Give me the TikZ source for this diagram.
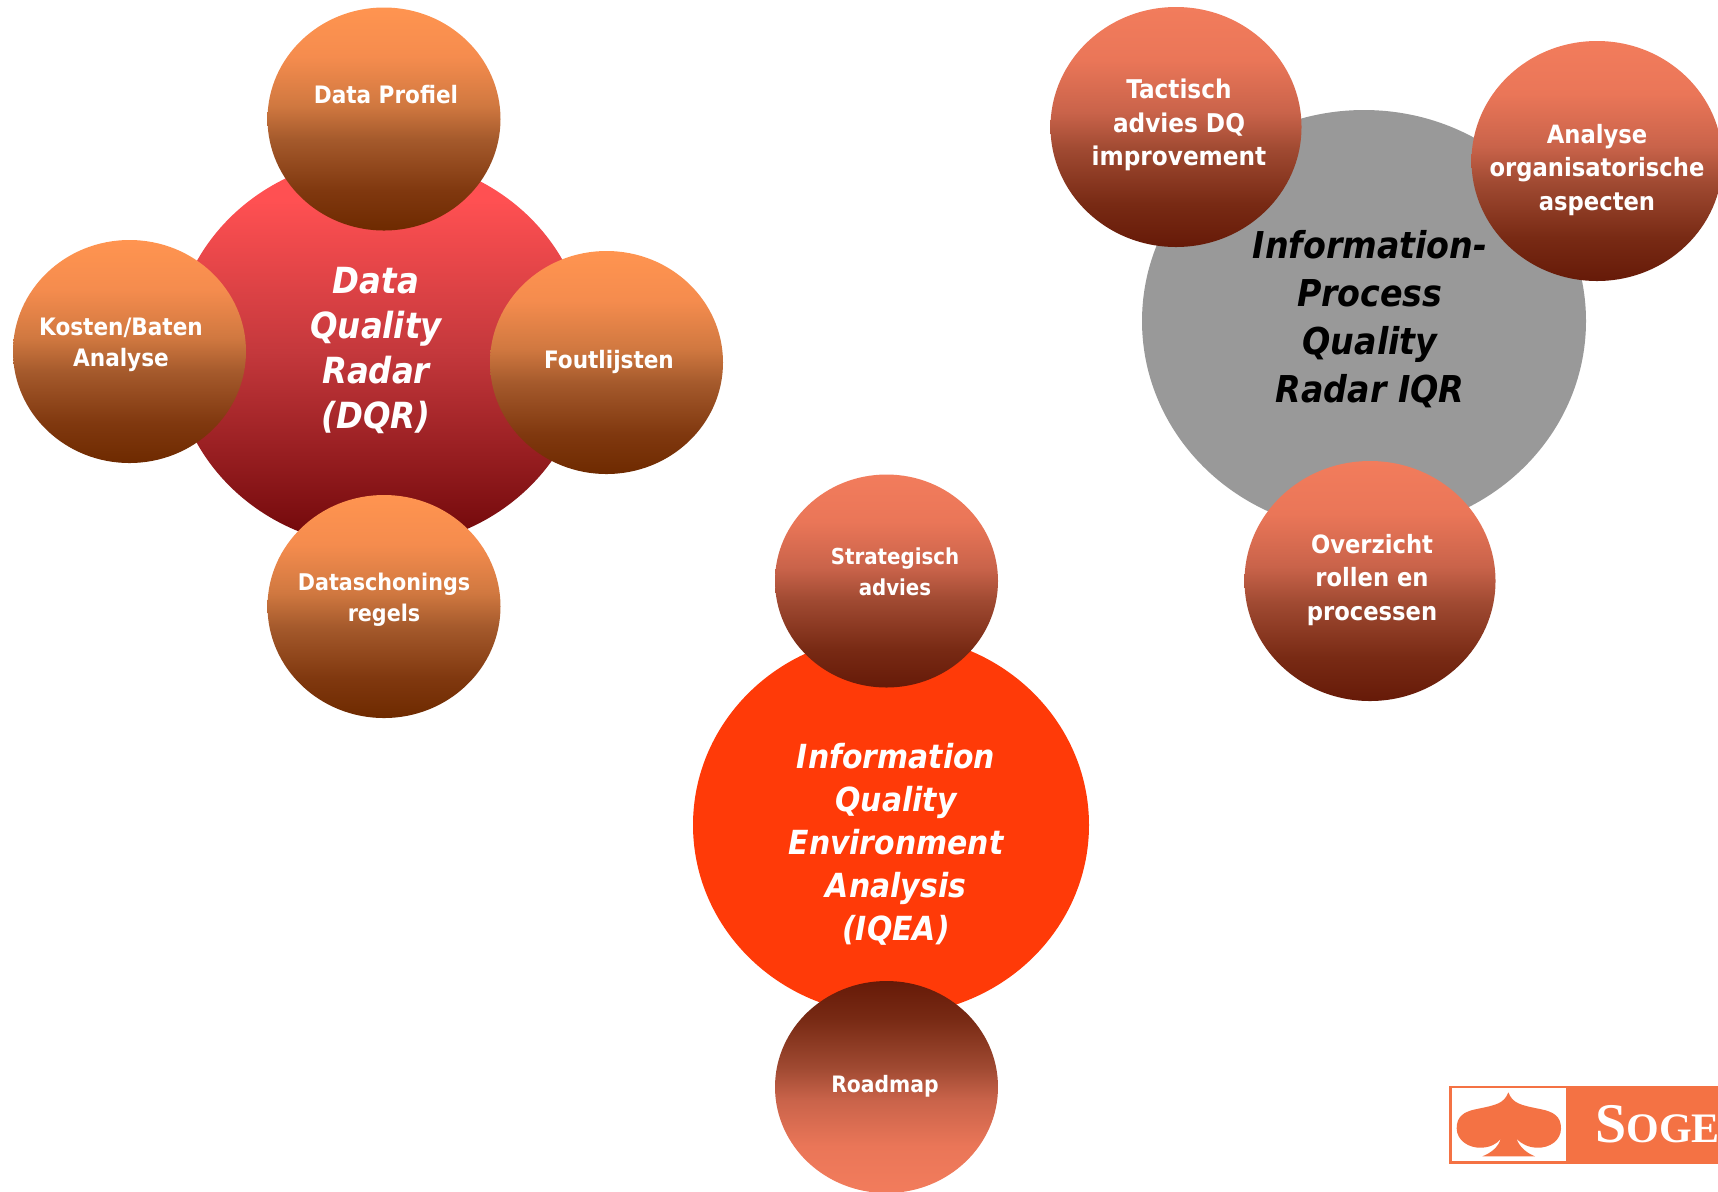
\documentclass[tikz,border=0pt]{standalone}
\usepackage{fontspec}
\usetikzlibrary{shapes.geometric}
\setmainfont{DejaVu Sans Condensed}
\newfontfamily\logofont{Liberation Serif}
\definecolor{orga}{HTML}{FF9450}
\definecolor{orgb}{HTML}{F58C4E}
\definecolor{orgc}{HTML}{D07840}
\definecolor{orgd}{HTML}{A55A2C}
\definecolor{orge}{HTML}{80380F}
\definecolor{orgf}{HTML}{6E2A00}
\definecolor{rsta}{HTML}{F27C5C}
\definecolor{rstb}{HTML}{EA7658}
\definecolor{rstc}{HTML}{C9634A}
\definecolor{rstd}{HTML}{A04A32}
\definecolor{rste}{HTML}{782A14}
\definecolor{rstf}{HTML}{661A08}
\definecolor{redtop}{HTML}{FF5052}
\definecolor{redmid}{HTML}{C4383C}
\definecolor{redbot}{HTML}{6E0608}
\definecolor{greyfill}{HTML}{999999}
\definecolor{iqeafill}{HTML}{FF3A08}
\definecolor{logofill}{HTML}{F47244}
\pgfdeclareverticalshading{redshade}{100bp}{color(0bp)=(redbot); color(25bp)=(redbot); color(50bp)=(redmid); color(69.5bp)=(redtop); color(100bp)=(redtop)}
\pgfdeclareverticalshading{orgshade}{100bp}{color(0bp)=(orgf); color(25bp)=(orgf); color(34bp)=(orge); color(45.5bp)=(orgd); color(53bp)=(orgc); color(64bp)=(orgb); color(75bp)=(orga); color(100bp)=(orga)}
\pgfdeclareverticalshading{rstshade}{100bp}{color(0bp)=(rstf); color(25bp)=(rstf); color(34bp)=(rste); color(45.5bp)=(rstd); color(53bp)=(rstc); color(64bp)=(rstb); color(75bp)=(rsta); color(100bp)=(rsta)}
\pgfdeclareverticalshading{rstupshade}{100bp}{color(0bp)=(rsta); color(25bp)=(rsta); color(36bp)=(rstb); color(47bp)=(rstc); color(54.5bp)=(rstd); color(66bp)=(rste); color(75bp)=(rstf); color(100bp)=(rstf)}
\tikzset{
 oval/.style={ellipse,inner sep=0pt,outer sep=0pt},
 small orange/.style={oval,minimum width=233pt*0.5,minimum height=223pt*0.5,shading=orgshade},
 small rust/.style={oval,minimum width=251pt*0.5,minimum height=240pt*0.5,shading=rstshade},
 mid rust/.style={oval,minimum width=223pt*0.5,minimum height=213pt*0.5,shading=rstshade},
 mid rust up/.style={oval,minimum width=223pt*0.5,minimum height=212pt*0.5,shading=rstupshade},
 txta/.style={align=center,text=white,inner sep=0pt,font=\fontsize{12}{15.5}\selectfont\bfseries},
 txtb/.style={align=center,text=white,inner sep=0pt,font=\fontsize{12.9}{16.8}\selectfont\bfseries},
 txtc/.style={align=center,text=white,inner sep=0pt,font=\fontsize{18}{22.5}\selectfont\bfseries\itshape},
 txtd/.style={align=center,text=black,inner sep=0pt,font=\fontsize{18.5}{24}\selectfont\bfseries\itshape},
 txte/.style={align=center,text=white,inner sep=0pt,font=\fontsize{16.6}{21.5}\selectfont\bfseries\itshape},
}
\begin{document}
\begin{tikzpicture}[x=0.5pt,y=-0.5pt]
\useasboundingbox (0,0) rectangle (1718,1191);
\clip (0,0) rectangle (1718,1191);
\fill[white] (0,0) rectangle (1718,1191);
% DQR group
\node[oval,minimum width=207pt,minimum height=195pt,shading=redshade] (dqr) at (380,352) {};
\node[small orange] (profiel) at (384,119) {};
\node[small orange] (kosten) at (129.5,351.5) {};
\node[small orange] (fout) at (606.5,362.5) {};
\node[small orange] (schoon) at (384,606.5) {};
\node[txtc] (dqrt) at (376,350) {Data\\Quality\\Radar\\(DQR)};
\node[txta] (profielt) at (386,95) {Data Profiel};
\node[txta] (kostent) at (121,345) {Kosten/Baten\\Analyse};
\node[txta] (foutt) at (609,362) {Foutlijsten};
\node[txta,font=\fontsize{11.5}{15.5}\selectfont\bfseries] (schoont) at (384,600) {Dataschonings\\regels};
% IQR group
\node[oval,minimum width=222pt,minimum height=211pt,fill=greyfill] (iqr) at (1364,321) {};
\node[small rust] (tact) at (1176,127) {};
\node[small rust] (anal) at (1597,161) {};
\node[small rust] (over) at (1370,581) {};
\node[txtd] (iqrt) at (1370,319) {Information-\\Process\\Quality\\Radar IQR};
\node[txtb] (tactt) at (1179,125) {Tactisch\\advies DQ\\improvement};
\node[txtb,font=\fontsize{12.6}{16.8}\selectfont\bfseries] (analt) at (1597,170) {Analyse\\organisatorische\\aspecten};
\node[txtb,font=\fontsize{12.6}{16.8}\selectfont\bfseries] (overt) at (1372,580) {Overzicht\\rollen en\\processen};
% IQEA group
\node[oval,minimum width=198pt,minimum height=190pt,fill=iqeafill] (iqea) at (891,825) {};
\node[mid rust] (strat) at (886.5,581) {};
\node[mid rust up] (road) at (886.5,1087) {};
\node[txte] (iqeat) at (896,844) {Information\\Quality\\Environment\\Analysis\\(IQEA)};
\node[txta,font=\fontsize{11}{15.5}\selectfont\bfseries] (stratt) at (895,572) {Strategisch\\advies};
\node[txta,font=\fontsize{11.3}{15.5}\selectfont\bfseries] (roadt) at (885,1086) {Roadmap};
% logo
\fill[logofill] (1449,1086) rectangle (1718,1164);
\fill[white] (1452,1088) rectangle (1566,1161);
\begin{scope}[shift={(1400,1050)},x=0.16667pt,y=-0.16667pt]
\fill[logofill] (325,127) .. controls (312,160) and (290,165) .. (230,177)
 .. controls (190,185) and (170,200) .. (170,235)
 .. controls (170,270) and (205,295) .. (245,293)
 .. controls (270,292) and (290,282) .. (302,267)
 .. controls (295,290) and (275,308) .. (247,319)
 -- (405,319)
 .. controls (378,308) and (358,290) .. (350,267)
 .. controls (365,282) and (385,292) .. (410,293)
 .. controls (450,295) and (483,270) .. (483,235)
 .. controls (483,200) and (462,185) .. (420,177)
 .. controls (360,165) and (338,160) .. (325,127) -- cycle;
\end{scope}
\node[anchor=base west,inner sep=0pt,text=white,font=\logofont\bfseries\fontsize{28}{28}\selectfont] (logot) at (1595,1142) {S\fontsize{21}{21}\selectfont OGE};
\end{tikzpicture}
\end{document}
